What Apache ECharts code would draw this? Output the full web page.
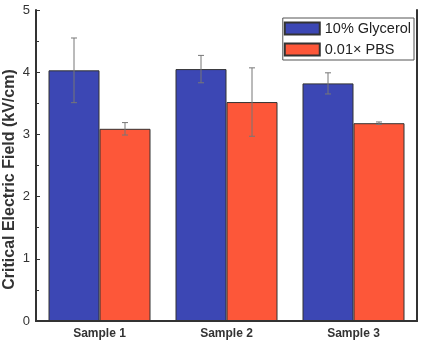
<!DOCTYPE html>
<html>
<head>
<meta charset="utf-8">
<script src="https://cdn.jsdelivr.net/npm/echarts@6/dist/echarts.min.js"></script>
<style>
  html, body { margin: 0; padding: 0; background: #fff; }
  #chart { width: 421px; height: 340px; }
</style>
</head>
<body>
<div id="chart"></div>
<script>
const categories = ['Sample 1', 'Sample 2', 'Sample 3']
const glycerol = [4.03, 4.05, 3.82]
const glycerolErr = [0.52, 0.22, 0.17]
const pbs = [3.09, 3.52, 3.18]
const pbsErr = [0.1, 0.55, 0.02]

const FONT = 'Liberation Sans'
const BAR_W = 51

// error bar drawn on top of a bar, offset left/right from the category center
const errorSeries = (values, errs, side) => ({
  type: 'custom',
  z: 10,
  silent: true,
  data: values.map((v, i) => [i, v - errs[i], v + errs[i]]),
  renderItem: (params, api) => {
    const lo = api.coord([api.value(0), api.value(1)])
    const hi = api.coord([api.value(0), api.value(2)])
    const x = lo[0] + side * BAR_W / 2
    const cap = 3
    const style = { stroke: '#777', lineWidth: 1 }
    return {
      type: 'group',
      children: [
        { type: 'line', shape: { x1: x, y1: lo[1], x2: x, y2: hi[1] }, style },
        { type: 'line', shape: { x1: x - cap, y1: lo[1], x2: x + cap, y2: lo[1] }, style },
        { type: 'line', shape: { x1: x - cap, y1: hi[1], x2: x + cap, y2: hi[1] }, style },
      ],
    }
  },
})

const chart = echarts.init(document.getElementById('chart'))
chart.setOption({
  animation: false,
  textStyle: { fontFamily: FONT },
  grid: { left: 36, right: 4, top: 10, bottom: 19, containLabel: false, outerBoundsMode: 'none' },
  legend: {
    orient: 'vertical',
    right: 7,
    top: 18,
    icon: 'rect',
    itemWidth: 35,
    itemHeight: 12,
    itemGap: 6,
    padding: [3, 3, 3, 1],
    borderColor: '#555',
    borderWidth: 1,
    textStyle: { fontSize: 14.5, color: '#222', fontFamily: FONT },
    data: ['10% Glycerol', '0.01\u00d7 PBS'],
  },
  xAxis: [
    {
      type: 'category',
      data: categories,
      axisLine: { lineStyle: { color: '#333', width: 2 } },
      axisTick: { show: false },
      axisLabel: { fontSize: 12, fontWeight: 'bold', color: '#333', margin: 7, fontFamily: FONT },
    },
    {
      type: 'category',
      position: 'top',
      data: categories,
      axisLine: { show: true, lineStyle: { color: '#333', width: 2 } },
      axisTick: { show: false },
      axisLabel: { show: false },
    },
  ],
  yAxis: [
    {
      type: 'value',
      min: 0,
      max: 5,
      interval: 1,
      name: 'Critical Electric Field (kV/cm)',
      nameLocation: 'middle',
      nameGap: 18,
      nameMoveOverlap: false,
      nameTextStyle: {
        fontSize: 16,
        fontWeight: 'bold',
        color: '#333',
        fontFamily: FONT,
        padding: [0, 28, 0, 0],
      },
      axisLine: { show: true, lineStyle: { color: '#333', width: 2 } },
      axisTick: { show: true, inside: true, length: 4, lineStyle: { color: '#333' } },
      minorTick: { show: true, splitNumber: 2, length: 3, lineStyle: { color: '#333' } },
      splitLine: { show: false },
      axisLabel: { fontSize: 13, color: '#333', margin: 6, fontFamily: FONT },
    },
    {
      type: 'value',
      position: 'right',
      min: 0,
      max: 5,
      interval: 1,
      axisLine: { show: true, lineStyle: { color: '#333', width: 2 } },
      axisTick: { show: false },
      splitLine: { show: false },
      axisLabel: { show: false },
    },
  ],
  series: [
    {
      name: '10% Glycerol',
      type: 'bar',
      data: glycerol,
      barWidth: BAR_W,
      barGap: '0%',
      itemStyle: { color: '#3c47b4', borderColor: '#333', borderWidth: 1 },
    },
    {
      name: '0.01\u00d7 PBS',
      type: 'bar',
      data: pbs,
      barWidth: BAR_W,
      barGap: '0%',
      itemStyle: { color: '#fd5739', borderColor: '#333', borderWidth: 1 },
    },
    errorSeries(glycerol, glycerolErr, -1),
    errorSeries(pbs, pbsErr, 1),
  ],
})
</script>
</body>
</html>
